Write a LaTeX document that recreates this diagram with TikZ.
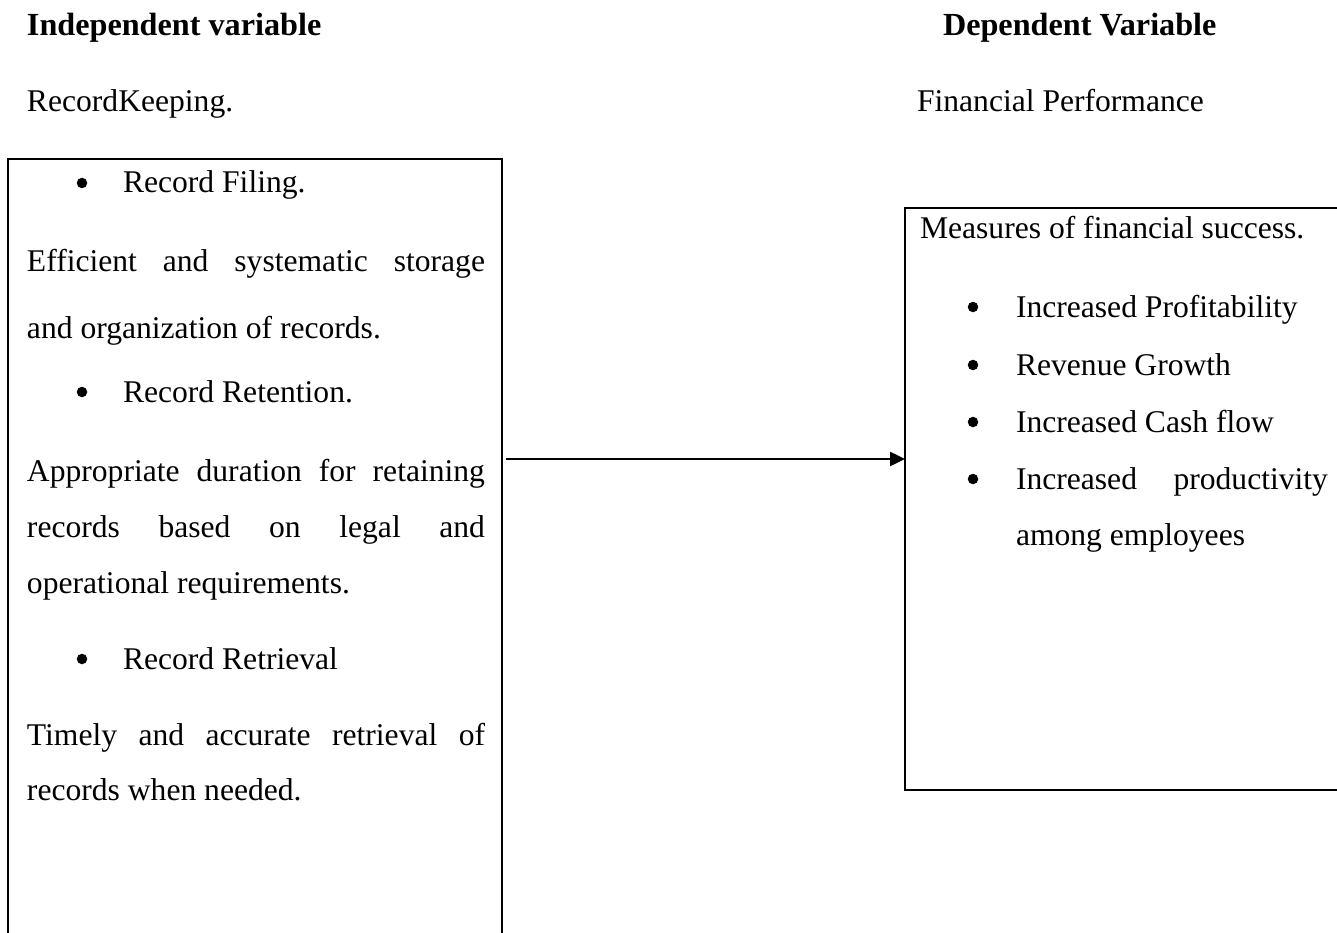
\documentclass[tikz,border=0pt]{standalone}
\usepackage{fontspec}
\setmainfont{Liberation Serif}
\usetikzlibrary{arrows.meta}
\begin{document}
\begin{tikzpicture}[x=1pt,y=-1pt,
  txt/.style={anchor=base west,inner sep=0pt,outer sep=0pt,font=\fontsize{31.6}{38}\selectfont},
  hdr/.style={txt,font=\fontsize{32.2}{38}\selectfont\bfseries},
  bul/.style={circle,fill=black,draw=none,minimum size=10.5pt,inner sep=0pt,outer sep=0pt},
  box/.style={draw,line width=2.4pt,anchor=north west,inner sep=0pt,outer sep=0pt},
  link/.style={line width=2.4pt,-{Triangle[length=15pt,width=14pt]}}]
\useasboundingbox (0,0) rectangle (1337,933);
\clip (0,0) rectangle (1337,933);
% headers
\node[hdr] (h1) at (27,36) {Independent variable};
\node[hdr] (h2) at (943,36) {Dependent Variable};
\node[txt] (s1) at (27,112) {RecordKeeping.};
\node[txt] (s2) at (917,112) {Financial Performance};
% boxes
\node[box,minimum width=494pt,minimum height=800pt] (L) at (8,159) {};
\node[box,minimum width=460pt,minimum height=582pt] (R) at (905,208) {};
% left box content
\node[bul] (lb1) at (82,183) {};
\node[txt] (l1) at (123,193) {Record Filing.};
\node[txt] (l2) at (27,271) {\makebox[458pt][s]{Efficient and systematic storage}};
\node[txt] (l3) at (27,338) {and organization of records.};
\node[bul] (lb2) at (82,392) {};
\node[txt] (l4) at (123,402) {Record Retention.};
\node[txt] (l5) at (27,481) {\makebox[458pt][s]{Appropriate duration for retaining}};
\node[txt] (l6) at (27,537) {\makebox[458pt][s]{records based on legal and}};
\node[txt] (l7) at (27,593) {operational requirements.};
\node[bul] (lb3) at (82,659) {};
\node[txt] (l8) at (123,669) {Record Retrieval};
\node[txt] (l9) at (27,745) {\makebox[458pt][s]{Timely and accurate retrieval of}};
\node[txt] (l10) at (27,800) {records when needed.};
% right box content
\node[txt] (r0) at (920,238) {Measures of financial success.};
\node[bul] (rb1) at (973,307) {};
\node[txt] (r1) at (1016,317) {Increased Profitability};
\node[bul] (rb2) at (973,365) {};
\node[txt] (r2) at (1016,375) {Revenue Growth};
\node[bul] (rb3) at (973,422) {};
\node[txt] (r3) at (1016,432) {Increased Cash flow};
\node[bul] (rb4) at (973,479) {};
\node[txt] (r4) at (1016,489) {\makebox[312pt][s]{Increased productivity}};
\node[txt] (r5) at (1016,545) {among employees};
% connector
\coordinate (ay) at (0,459);
\draw[link] ([xshift=4pt]L.east |- ay) -- (R.west |- ay);
\end{tikzpicture}
\end{document}
